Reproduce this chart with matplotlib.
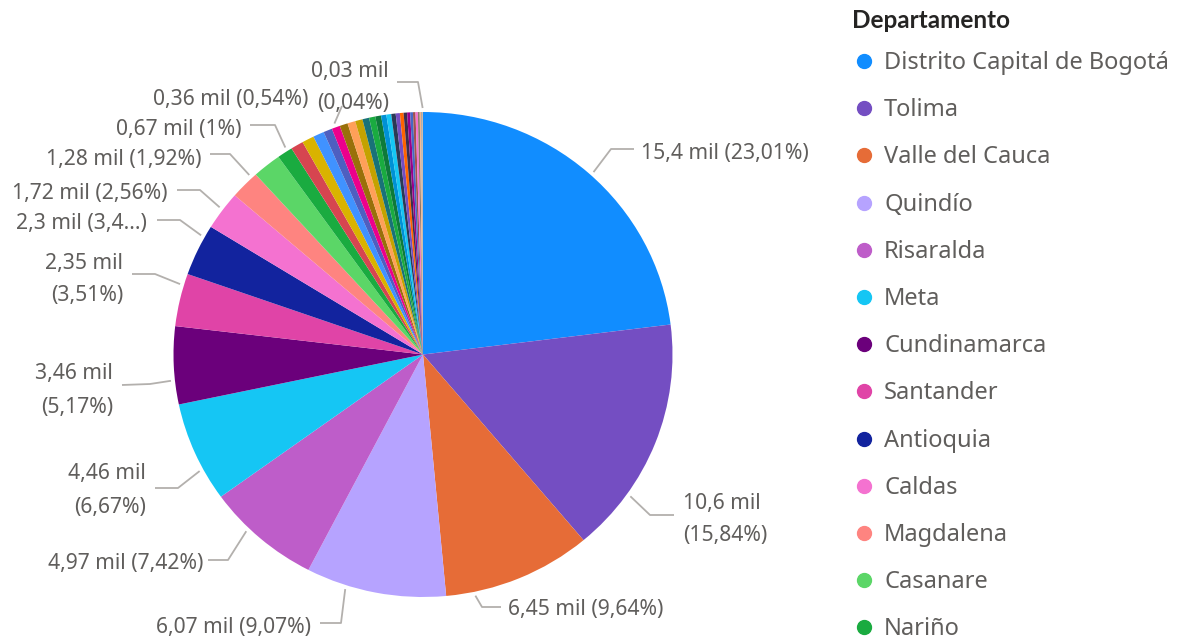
import matplotlib.pyplot as plt
import numpy as np

plt.rcParams['font.family'] = ['Noto Sans', 'DejaVu Sans']

# departamentos visibles en la leyenda (el resto queda cortado)
departamentos = ["Distrito Capital de Bogotá", "Tolima", "Valle del Cauca", "Quindío",
                 "Risaralda", "Meta", "Cundinamarca", "Santander", "Antioquia",
                 "Caldas", "Magdalena", "Casanare", "Nariño"]
valores = [15.40, 10.60, 6.45, 6.07, 4.97, 4.46, 3.46, 2.35, 2.30, 1.72, 1.28, 1.24, 0.67]
# resto de departamentos (miles), sin etiqueta visible
otros = [0.55, 0.52, 0.48, 0.38, 0.36, 0.35, 0.34, 0.32, 0.29, 0.27, 0.25, 0.23,
         0.21, 0.19, 0.18, 0.16, 0.15, 0.13, 0.12, 0.11, 0.10, 0.08, 0.06, 0.05, 0.03]

colores = ['#118DFF', '#744EC2', '#E66C37', '#B6A3FF', '#BE5DC9', '#15C6F4', '#6B007B',
           '#E044A7', '#12239E', '#F472D0', '#FE8480', '#5BD667', '#1AAB40']
colores_otros = ['#D64550', '#D9B300', '#4092FF', '#4E5FC0', '#EC008C', '#99700A', '#FFA058',
                 '#C4A200', '#197278', '#1AAB40', '#0E7A3A', '#0091D5', '#15C6F4', '#2B3A55',
                 '#744EC2', '#FF6300', '#3D2D4D', '#99008A', '#4668C5', '#A0524F', '#F472D0',
                 '#8C7A6B', '#F5B48C', '#9E9E9E', '#C8A890']

# porcentajes como aparecen en las etiquetas
pct_txt = {0: "23,01%", 1: "15,84%", 2: "9,64%", 3: "9,07%", 4: "7,42%", 5: "6,67%",
           6: "5,17%", 7: "3,51%", 8: "3,4...", 9: "2,56%", 10: "1,92%", 12: "1%",
           17: "0,54%", 37: "0,04%"}

todos = valores + otros
cols = colores + colores_otros

def fmt(v):
    return (f"{v:.3g}").replace('.', ',') + " mil"

fig = plt.figure(figsize=(11.84, 6.4), dpi=100)

# pie area in image pixels
cx, cy, rx, ry = 423, 354.5, 249.5, 242.5
W, H = 1184, 640
ax = fig.add_axes([(cx - rx) / W, (H - cy - ry) / H, 2 * rx / W, 2 * ry / H])
wedges, _ = ax.pie(todos, colors=cols, startangle=90, counterclock=False,
                   wedgeprops=dict(linewidth=0))
ax.set_aspect('auto')
ax.set_xlim(-1, 1)
ax.set_ylim(-1, 1)
ax.axis('off')

# overlay in pixel coords (y down)
ov = fig.add_axes([0, 0, 1, 1])
ov.set_xlim(0, W)
ov.set_ylim(H, 0)
ov.axis('off')
ov.patch.set_alpha(0)

gris = '#605E5C'
linea = '#B3B0AD'
fs = 15.2

# (indice, dos lineas?, x texto, y texto, ha, fraccion en la cuna, puntos de la guia)
etiquetas = [
    (0, False, 641, 154, 'left', 0.51, [(611, 149), (634, 149)]),
    (1, True, 683, 519, 'left', 0.74, [(650, 515), (674, 515)]),
    (2, False, 508, 610, 'left', 0.81, [(482, 607), (501, 607)]),
    (3, False, 311, 628, 'right', 0.71, [(341, 623), (320, 623)]),
    (4, False, 203, 563, 'right', 0.63, [(228, 560), (208, 560)]),
    (5, True, 146, 490, 'right', 0.32, [(178, 488), (155, 488)]),
    (6, True, 113, 390, 'right', 0.31, [(150, 384), (122, 385)]),
    (7, True, 123, 279, 'right', 0.78, [(155, 274), (132, 274)]),
    (8, False, 147, 223, 'right', 0.77, [(180, 220), (157, 220)]),
    (9, False, 167, 193, 'right', 0.53, [(200, 190), (177, 190)]),
    (10, False, 202, 159, 'right', 0.83, [(230, 154), (210, 154)]),
    (12, False, 241, 129, 'right', 0.7, [(275, 125), (250, 125)]),
    (17, False, 308, 100, 'right', 0.5, [(342, 106)]),
    (37, True, 389, 87, 'right', 0.5, [(418, 82), (397, 82)]),
]

for i, dos, tx, ty, ha, f, pts in etiquetas:
    w = wedges[i]
    th = np.deg2rad(w.theta1 + (1 - f) * (w.theta2 - w.theta1))
    sx = cx + (rx + 4) * np.cos(th)
    sy = cy - (ry + 4) * np.sin(th)
    xs = [sx] + [p[0] for p in pts]
    ys = [sy] + [p[1] for p in pts]
    ov.plot(xs, ys, color=linea, lw=1.3, solid_capstyle='butt')
    if dos:
        ov.text(tx, ty - 16, fmt(todos[i]), ha=ha, va='center', fontsize=fs, color=gris)
        ov.text(tx, ty + 17, "(" + pct_txt[i] + ")", ha=ha, va='center', fontsize=fs, color=gris)
    else:
        ov.text(tx, ty, fmt(todos[i]) + " (" + pct_txt[i] + ")", ha=ha, va='center',
                fontsize=fs, color=gris)

# leyenda
ov.text(852, 21, "Departamento", ha='left', va='center', fontsize=17.5,
        fontweight='bold', color='#252423', family=['Lato', 'DejaVu Sans'])
for k, nombre in enumerate(departamentos):
    y = 61 + k * 47.2
    ov.plot(864, y, 'o', color=colores[k], markersize=10)
    ov.text(884, y + 2, nombre, ha='left', va='center', fontsize=17, color=gris)

fig.savefig('out.png', dpi=100)
